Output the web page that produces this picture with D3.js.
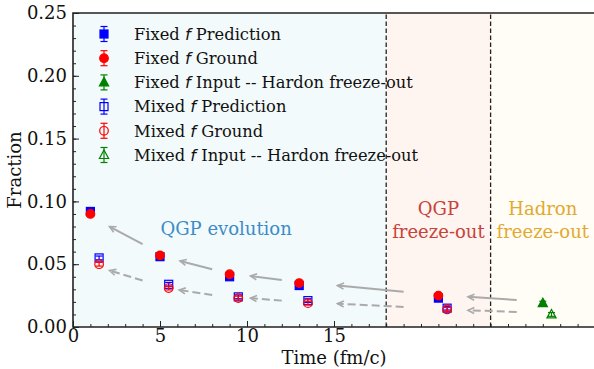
<!DOCTYPE html>
<html>
<head>
<meta charset="utf-8">
<script src="https://cdn.jsdelivr.net/npm/d3@7"></script>
<style>
  body { margin: 0; background: #fff; }
  svg { display: block; font-family: "DejaVu Serif", serif; }
</style>
</head>
<body>
<div id="chart"></div>
<script>
// values
const fixedPredX = [1, 5, 9, 13, 21];
const fixedPredY = [0.092, 0.056, 0.040, 0.033, 0.023];
const fixedGroundX = [1, 5, 9, 13, 21];
const fixedGroundY = [0.090, 0.057, 0.042, 0.035, 0.025];
const fixedInputX = [27];
const fixedInputY = [0.019];
const mixedPredX = [1.5, 5.5, 9.5, 13.5, 21.5];
const mixedPredY = [0.055, 0.034, 0.024, 0.021, 0.015];
const mixedGroundX = [1.5, 5.5, 9.5, 13.5, 21.5];
const mixedGroundY = [0.050, 0.031, 0.023, 0.019, 0.014];
const mixedInputX = [27.5];
const mixedInputY = [0.010];
const errY = 0.0015;

const xTicks = [0, 5, 10, 15];
const yTicks = [0, 0.05, 0.10, 0.15, 0.20, 0.25];
const stageEdges = [0, 18, 24, 30];
const stageFills = ["#f3fafb", "#fef4f0", "#fffdf6"];

// arrows: [x0, y0, x1, y1, dashed]
const arrows = [
  [4, 0.066, 2.1, 0.080, false],
  [4, 0.037, 2.1, 0.045, true],
  [8, 0.046, 6.15, 0.0526, false],
  [8, 0.0255, 6.1, 0.0295, true],
  [12, 0.0374, 10.2, 0.0406, false],
  [12, 0.021, 10.2, 0.023, true],
  [19, 0.028, 15.2, 0.033, false],
  [19, 0.016, 15.2, 0.0186, true],
  [25.5, 0.0215, 22.7, 0.024, false],
  [25.5, 0.012, 22.7, 0.0133, true]
];

const stageLabels = [
  {x: 8.8, y: 0.079, lines: ["QGP evolution"], color: "#3a8cc8"},
  {x: 21, y: 0.0856, lines: ["QGP", "freeze-out"], color: "#c8423a"},
  {x: 27, y: 0.0856, lines: ["Hadron", "freeze-out"], color: "#e2a92f"}
];

const series = [
  {name: "Prediction", kind: "Fixed", X: fixedPredX, Y: fixedPredY, shape: "square", color: "blue", filled: true},
  {name: "Ground", kind: "Fixed", X: fixedGroundX, Y: fixedGroundY, shape: "circle", color: "red", filled: true},
  {name: "Input -- Hardon freeze-out", kind: "Fixed", X: fixedInputX, Y: fixedInputY, shape: "triangle", color: "green", filled: true},
  {name: "Prediction", kind: "Mixed", X: mixedPredX, Y: mixedPredY, shape: "square", color: "blue", filled: false},
  {name: "Ground", kind: "Mixed", X: mixedGroundX, Y: mixedGroundY, shape: "circle", color: "red", filled: false},
  {name: "Input -- Hardon freeze-out", kind: "Mixed", X: mixedInputX, Y: mixedInputY, shape: "triangle", color: "green", filled: false}
];

const width = 594, height = 369;
const marginLeft = 73, marginTop = 13, marginBottom = 42;
const fontSize = 18, legendSize = 16.3;

const x = d3.scaleLinear().domain([0, 30]).range([marginLeft, 595]);
const y = d3.scaleLinear().domain([0, 0.25]).range([height - marginBottom, marginTop]);

const svg = d3.select("#chart").append("svg")
    .attr("width", width)
    .attr("height", height)
    .attr("viewBox", [0, 0, width, height]);

// stage backgrounds
svg.append("g")
  .selectAll("rect")
  .data(d3.range(3))
  .join("rect")
    .attr("x", i => x(stageEdges[i]))
    .attr("y", y(0.25))
    .attr("width", i => x(stageEdges[i + 1]) - x(stageEdges[i]))
    .attr("height", y(0) - y(0.25))
    .attr("fill", i => stageFills[i]);

// dashed separators
svg.append("g")
  .selectAll("line")
  .data([18, 24])
  .join("line")
    .attr("x1", d => x(d)).attr("x2", d => x(d))
    .attr("y1", y(0)).attr("y2", y(0.25))
    .attr("stroke", "#222")
    .attr("stroke-width", 1.3)
    .attr("stroke-dasharray", "4.5,2.5");

// arrows
const ag = svg.append("g")
    .attr("stroke", "#aaaaaa")
    .attr("stroke-width", 2)
    .attr("fill", "none");
arrows.forEach(([x0, y0, x1, y1, dashed]) => {
  const px0 = x(x0), py0 = y(y0), px1 = x(x1), py1 = y(y1);
  ag.append("line")
      .attr("x1", px0).attr("y1", py0)
      .attr("x2", px1).attr("y2", py1)
      .attr("stroke-dasharray", dashed ? "8,4" : null);
  const ang = Math.atan2(py0 - py1, px0 - px1);
  const L = 7, spread = 0.45;
  const p = d3.path();
  p.moveTo(px1 + L * Math.cos(ang + spread), py1 + L * Math.sin(ang + spread));
  p.lineTo(px1, py1);
  p.lineTo(px1 + L * Math.cos(ang - spread), py1 + L * Math.sin(ang - spread));
  ag.append("path").attr("d", p.toString()).attr("stroke-width", 1.6);
});

// stage labels
stageLabels.forEach(s => {
  const t = svg.append("text")
      .attr("x", x(s.x))
      .attr("y", y(s.y) - (s.lines.length - 1) * 11.5)
      .attr("text-anchor", "middle")
      .attr("dominant-baseline", "central")
      .attr("font-size", fontSize)
      .attr("fill", s.color);
  s.lines.forEach((ln, i) => {
    t.append("tspan").attr("x", x(s.x)).attr("dy", i ? 23 : 0).text(ln);
  });
});

function marker(g, shape, color, filled) {
  const fill = filled ? color : "none";
  if (shape === "square") {
    g.append("rect").attr("x", -4).attr("y", -4).attr("width", 8).attr("height", 8)
      .attr("fill", fill).attr("stroke", color).attr("stroke-width", 1.2);
  } else if (shape === "circle") {
    g.append("circle").attr("r", 4.3)
      .attr("fill", fill).attr("stroke", color).attr("stroke-width", 1.2);
  } else {
    g.append("path").attr("d", "M0,-5L4.6,3.5L-4.6,3.5Z")
      .attr("fill", fill).attr("stroke", color).attr("stroke-width", 1.2);
  }
}

function errbar(g, dy, color) {
  g.append("line").attr("x1", 0).attr("x2", 0).attr("y1", -dy).attr("y2", dy)
    .attr("stroke", color).attr("stroke-width", 1.2);
  [-dy, dy].forEach(v => g.append("line")
    .attr("x1", -3.5).attr("x2", 3.5).attr("y1", v).attr("y2", v)
    .attr("stroke", color).attr("stroke-width", 1.2));
}

// data points
series.forEach(s => {
  s.X.forEach((xv, i) => {
    const g = svg.append("g").attr("transform", `translate(${x(xv)},${y(s.Y[i])})`);
    const dy = y(0) - y(errY);
    if (s.filled) { errbar(g, dy, s.color); marker(g, s.shape, s.color, true); }
    else { marker(g, s.shape, s.color, false); errbar(g, dy, s.color); }
  });
});

// legend
const legend = svg.append("g").attr("font-size", legendSize).attr("fill", "#111");
series.forEach((s, i) => {
  const ly = 34 + i * 24.2;
  const g = legend.append("g").attr("transform", `translate(104,${ly})`);
  errbar(g, 7.5, s.color);
  marker(g, s.shape, s.color, s.filled);
  const t = legend.append("text").attr("x", 134).attr("y", ly).attr("dy", "0.35em");
  t.append("tspan").text(s.kind + " ");
  t.append("tspan").attr("font-family", "DejaVu Sans").attr("font-style", "italic").text("f");
  t.append("tspan").text(" " + s.name);
});

// axes
const xAxis = d3.axisBottom(x).tickValues(xTicks).tickFormat(d3.format("d"))
    .tickSizeInner(-6).tickSizeOuter(0).tickPadding(2);
const xMinor = d3.axisBottom(x).tickValues(d3.range(0, 31, 1)).tickFormat("")
    .tickSizeInner(-3).tickSizeOuter(0);
const yAxis = d3.axisLeft(y).tickValues(yTicks).tickFormat(d3.format(".2f"))
    .tickSizeInner(-6).tickSizeOuter(0).tickPadding(6);
const yMinor = d3.axisLeft(y).tickValues(d3.range(0, 26, 1).map(v => v / 100)).tickFormat("")
    .tickSizeInner(-3).tickSizeOuter(0);

function styleAxis(g) {
  g.selectAll(".domain").remove();
  g.selectAll(".tick line").attr("stroke", "#222").attr("stroke-width", 1);
  g.selectAll(".tick text").attr("font-family", "DejaVu Serif").attr("font-size", fontSize).attr("fill", "#111");
}

svg.append("g").attr("transform", `translate(0,${y(0)})`).call(xMinor).call(styleAxis);
svg.append("g").attr("transform", `translate(0,${y(0)})`).call(xAxis).call(styleAxis);
svg.append("g").attr("transform", `translate(${x(0)},0)`).call(yMinor).call(styleAxis);
svg.append("g").attr("transform", `translate(${x(0)},0)`).call(yAxis).call(styleAxis);

// spines
svg.append("path")
    .attr("d", `M${x(30)},${y(0.25)}H${x(0)}V${y(0)}H${x(30)}`)
    .attr("fill", "none")
    .attr("stroke", "#222")
    .attr("stroke-width", 1.6);

// axis titles
svg.append("text")
    .attr("x", (x(0) + x(30)) / 2)
    .attr("y", 364)
    .attr("text-anchor", "middle")
    .attr("font-size", fontSize)
    .attr("fill", "#111")
    .text("Time (fm/c)");

svg.append("text")
    .attr("transform", `translate(21,${(y(0) + y(0.25)) / 2}) rotate(-90)`)
    .attr("text-anchor", "middle")
    .attr("font-size", fontSize)
    .attr("fill", "#111")
    .text("Fraction");
</script>
</body>
</html>
